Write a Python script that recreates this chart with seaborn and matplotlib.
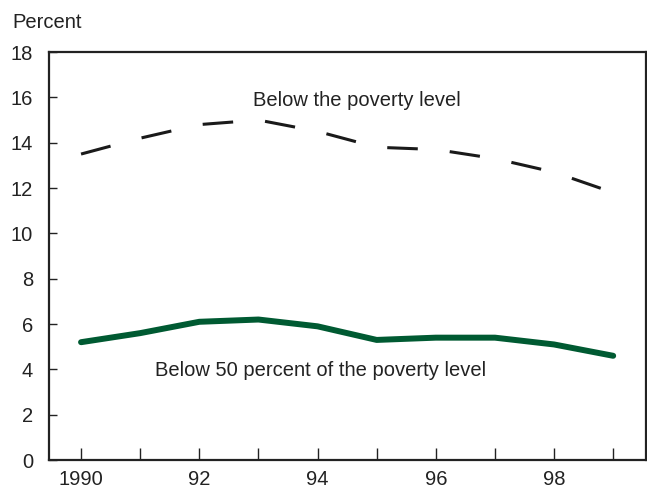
import seaborn as sns
import matplotlib.pyplot as plt
import pandas as pd

years = [1990, 1991, 1992, 1993, 1994, 1995, 1996, 1997, 1998, 1999]
below_poverty = [13.5, 14.2, 14.8, 15.0, 14.5, 13.8, 13.7, 13.3, 12.7, 11.8]
below_50pct = [5.2, 5.6, 6.1, 6.2, 5.9, 5.3, 5.4, 5.4, 5.1, 4.6]
xtick_labels = ["1990", "", "92", "", "94", "", "96", "", "98", ""]

df = pd.DataFrame({"year": years, "poverty": below_poverty, "half": below_50pct})

sns.set_style("white")
plt.rcParams['font.family'] = ['Liberation Sans', 'DejaVu Sans']
fs = 14.5

fig = plt.figure(figsize=(6.47, 4.91), dpi=100)
ax = fig.add_axes([0.075, 0.063, 0.923, 0.831])

# dashed line: below the poverty level
sns.lineplot(data=df, x="year", y="poverty", ax=ax, color="#1a1a1a", linewidth=2.2)
ax.lines[-1].set_dashes((10, 10.5))
# solid green: below 50 percent
sns.lineplot(data=df, x="year", y="half", ax=ax, color="#005a32", linewidth=4.3)

ax.set_xlim(1989.45, 1999.55)
ax.set_ylim(0, 18)
ax.set_yticks(range(0, 19, 2))
ax.set_xticks(years)
ax.set_xticklabels(xtick_labels)
ax.tick_params(axis="both", direction="in", width=1, color="#222222",
               labelsize=fs, labelcolor="#222222", bottom=True, left=True)
ax.tick_params(axis="y", length=6, pad=11)
ax.tick_params(axis="x", length=9, pad=7)
ax.set_xlabel("")
ax.set_ylabel("")
for s in ax.spines.values():
    s.set_color("#222222")
    s.set_linewidth(1.6)

ax.text(1994.67, 15.85, "Below the poverty level", fontsize=fs, color="#222222",
        ha="center", va="center")
ax.text(1994.05, 3.95, "Below 50 percent of the poverty level", fontsize=fs,
        color="#222222", ha="center", va="center")
fig.text(12 / 647, 1 - 22 / 491, "Percent", fontsize=fs, color="#222222",
         ha="left", va="center")

fig.savefig("out.png", dpi=100)
